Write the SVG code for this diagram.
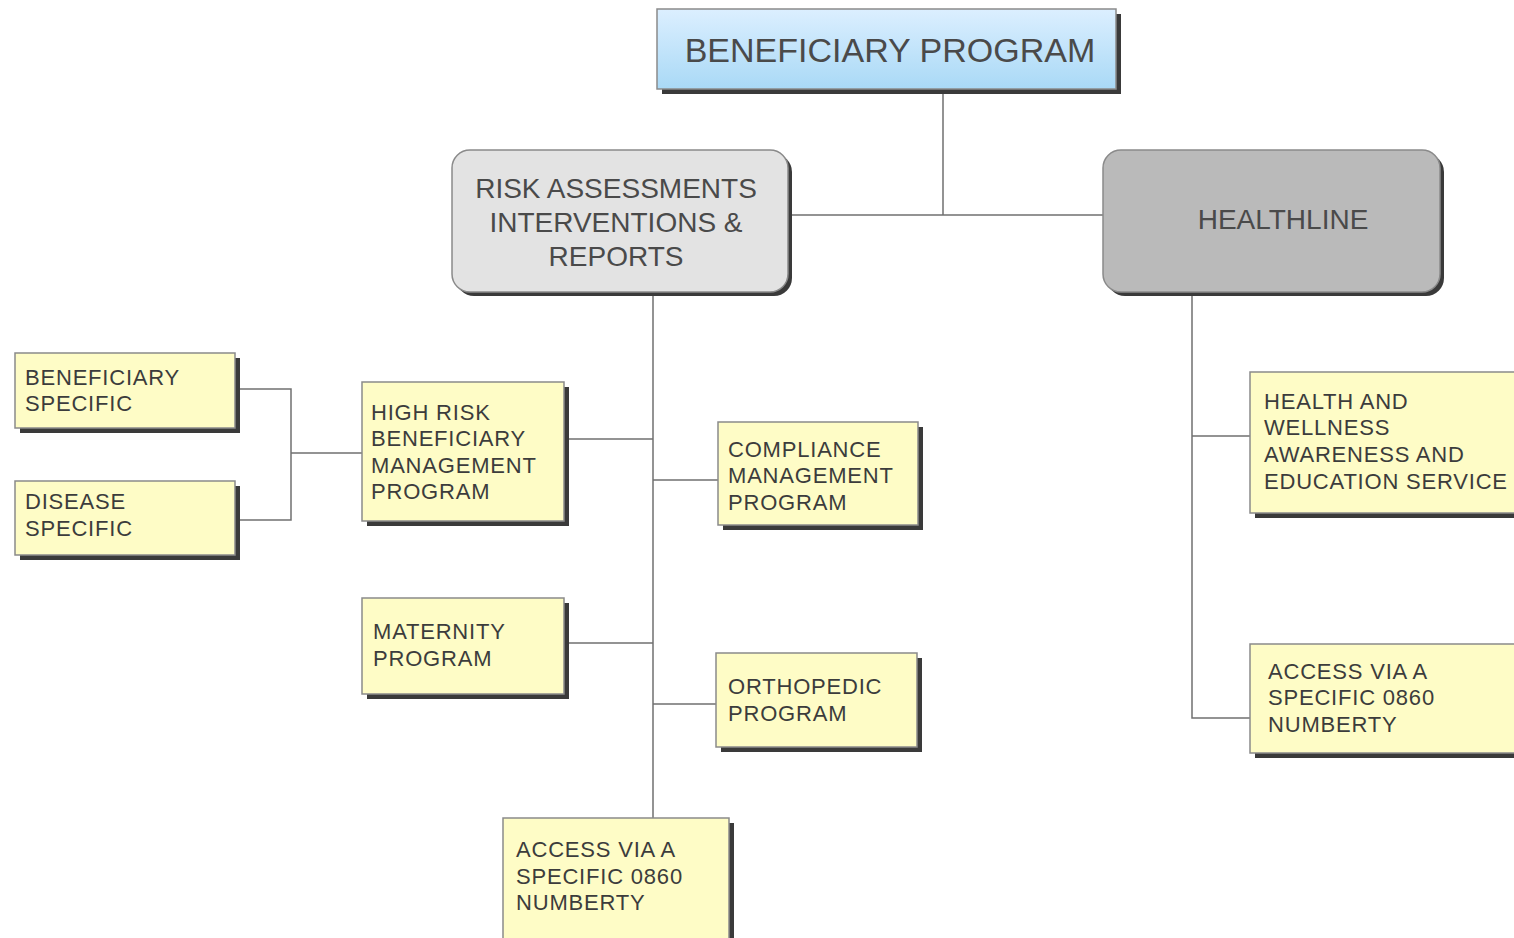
<svg xmlns="http://www.w3.org/2000/svg" width="1514" height="938" viewBox="0 0 1514 938">
<defs>
<linearGradient id="blue" x1="0" y1="0" x2="0" y2="1">
<stop offset="0" stop-color="#dcefff"/>
<stop offset="1" stop-color="#a9d9f6"/>
</linearGradient>
<style>
.sh{fill:#3a3a3a}
.box{fill:#fefcc6;stroke:#8a8a8a;stroke-width:1.5}
.t{font-family:"Liberation Sans",Arial,sans-serif;font-size:22px;letter-spacing:0.8px;fill:#3c3c3c}
.big{font-family:"Liberation Sans",Arial,sans-serif;fill:#4a4a4a;text-anchor:middle}
.c{fill:none;stroke:#707070;stroke-width:1.5}
</style>
</defs>
<rect width="1514" height="938" fill="#ffffff"/>
<g id="connectors">
<path class="c" d="M943 89V215M788 215H1103"/>
<path class="c" d="M653 292V818M565 439H653M653 480H718M565 643H653M653 704H716"/>
<path class="c" d="M1192 292V718H1250M1192 436H1250"/>
<path class="c" d="M235 389H291V520H235M291 453H362"/>
</g>
<g id="beneficiary-program">
<rect class="sh" x="662" y="14" width="459" height="80"/>
<rect x="657" y="9" width="459" height="80" fill="url(#blue)" stroke="#8a8a8a" stroke-width="1.5"/>
<text class="big" x="890" y="62" font-size="34">BENEFICIARY PROGRAM</text>
</g>
<g id="risk">
<rect class="sh" x="456" y="154" width="336" height="142" rx="18"/>
<rect x="452" y="150" width="336" height="142" rx="18" fill="#e3e3e3" stroke="#8a8a8a" stroke-width="1.5"/>
<text class="big" x="616" y="198" font-size="28">RISK ASSESSMENTS</text>
<text class="big" x="616" y="232" font-size="28">INTERVENTIONS &amp;</text>
<text class="big" x="616" y="266" font-size="28">REPORTS</text>
</g>
<g id="healthline">
<rect class="sh" x="1107" y="154" width="337" height="142" rx="18"/>
<rect x="1103" y="150" width="337" height="142" rx="18" fill="#bababa" stroke="#8a8a8a" stroke-width="1.5"/>
<text class="big" x="1283" y="229" font-size="28">HEALTHLINE</text>
</g>
<g id="beneficiary-specific">
<rect class="sh" x="20" y="358" width="220" height="75"/>
<rect class="box" x="15" y="353" width="220" height="75"/>
<text class="t" x="25" y="385">BENEFICIARY</text>
<text class="t" x="25" y="411">SPECIFIC</text>
</g>
<g id="disease-specific">
<rect class="sh" x="20" y="486" width="220" height="74"/>
<rect class="box" x="15" y="481" width="220" height="74"/>
<text class="t" x="25" y="509">DISEASE</text>
<text class="t" x="25" y="536">SPECIFIC</text>
</g>
<g id="high-risk">
<rect class="sh" x="367" y="387" width="202" height="139"/>
<rect class="box" x="362" y="382" width="202" height="139"/>
<text class="t" x="371" y="420">HIGH RISK</text>
<text class="t" x="371" y="446">BENEFICIARY</text>
<text class="t" x="371" y="473">MANAGEMENT</text>
<text class="t" x="371" y="499">PROGRAM</text>
</g>
<g id="compliance">
<rect class="sh" x="723" y="427" width="200" height="103"/>
<rect class="box" x="718" y="422" width="200" height="103"/>
<text class="t" x="728" y="457">COMPLIANCE</text>
<text class="t" x="728" y="483">MANAGEMENT</text>
<text class="t" x="728" y="510">PROGRAM</text>
</g>
<g id="maternity">
<rect class="sh" x="367" y="603" width="202" height="96"/>
<rect class="box" x="362" y="598" width="202" height="96"/>
<text class="t" x="373" y="639">MATERNITY</text>
<text class="t" x="373" y="666">PROGRAM</text>
</g>
<g id="orthopedic">
<rect class="sh" x="721" y="658" width="201" height="94"/>
<rect class="box" x="716" y="653" width="201" height="94"/>
<text class="t" x="728" y="694">ORTHOPEDIC</text>
<text class="t" x="728" y="721">PROGRAM</text>
</g>
<g id="access-left">
<rect class="sh" x="508" y="823" width="226" height="125"/>
<rect class="box" x="503" y="818" width="226" height="125"/>
<text class="t" x="516" y="857">ACCESS VIA A</text>
<text class="t" x="516" y="884">SPECIFIC 0860</text>
<text class="t" x="516" y="910">NUMBERTY</text>
</g>
<g id="health-wellness">
<rect class="sh" x="1255" y="377" width="270" height="141"/>
<rect class="box" x="1250" y="372" width="270" height="141"/>
<text class="t" x="1264" y="409">HEALTH AND</text>
<text class="t" x="1264" y="435">WELLNESS</text>
<text class="t" x="1264" y="462">AWARENESS AND</text>
<text class="t" x="1264" y="489">EDUCATION SERVICE</text>
</g>
<g id="access-right">
<rect class="sh" x="1255" y="649" width="270" height="109"/>
<rect class="box" x="1250" y="644" width="270" height="109"/>
<text class="t" x="1268" y="679">ACCESS VIA A</text>
<text class="t" x="1268" y="705">SPECIFIC 0860</text>
<text class="t" x="1268" y="732">NUMBERTY</text>
</g>
</svg>
